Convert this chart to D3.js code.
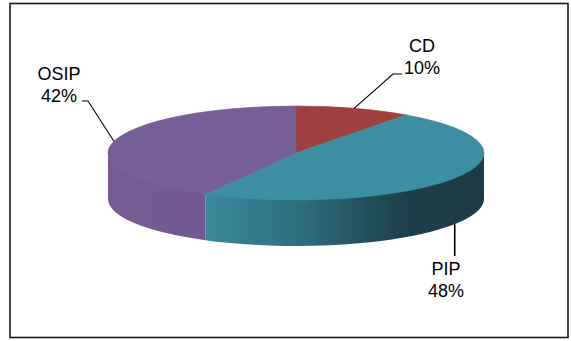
<!DOCTYPE html>
<html>

<head>
  <title>Pie 3D</title>
  <script src="https://cdn.jsdelivr.net/npm/d3@7"></script>
  <style>
    body { margin: 0; background: #fff; }
    text { font-family: "Liberation Sans", Arial, sans-serif; font-size: 18px; fill: #000; }
  </style>
</head>

<body>
  <svg width="571" height="341" id="mainsvg"></svg>
  <script>
    // data
    const categories = ['CD', 'PIP', 'OSIP'];
    const shares = [10, 48, 42];
    const colors = ['#9e413e', '#3c8ea2', '#765e96'];

    const svg = d3.select('#mainsvg');
    const width = +svg.attr('width');
    const height = +svg.attr('height');

    // ellipse geometry of the tilted pie
    const cx = 296, cy = 153, rx = 188, ry = 47, depth = 46;

    const pt = (a, dy = 0) => [cx + rx * Math.sin(a), cy - ry * Math.cos(a) + dy];

    const data = categories.map((c, i) => ({ name: c, value: shares[i] }));
    const pie = d3.pie().value(d => d.value).sort(null);
    const arcs = pie(data);
    const color = d3.scaleOrdinal().domain(categories).range(colors);

    // frame
    svg.append('rect')
      .attr('x', 10).attr('y', 3.5)
      .attr('width', 558).attr('height', 334)
      .attr('fill', 'none')
      .attr('stroke', '#1a1a1a')
      .attr('stroke-width', 1.6);

    const defs = svg.append('defs');
    const pipGrad = defs.append('linearGradient')
      .attr('id', 'pipSide')
      .attr('gradientUnits', 'userSpaceOnUse')
      .attr('x1', 205).attr('x2', 484).attr('y1', 0).attr('y2', 0);
    pipGrad.append('stop').attr('offset', '0%').attr('stop-color', '#3a889b');
    pipGrad.append('stop').attr('offset', '35%').attr('stop-color', '#2e6d7d');
    pipGrad.append('stop').attr('offset', '70%').attr('stop-color', '#1d404c');
    pipGrad.append('stop').attr('offset', '100%').attr('stop-color', '#1b3b46');

    const osipGrad = defs.append('linearGradient')
      .attr('id', 'osipSide')
      .attr('gradientUnits', 'userSpaceOnUse')
      .attr('x1', 108).attr('x2', 208).attr('y1', 0).attr('y2', 0);
    osipGrad.append('stop').attr('offset', '0%').attr('stop-color', '#765c93');
    osipGrad.append('stop').attr('offset', '100%').attr('stop-color', '#715890');

    const sideFill = { PIP: 'url(#pipSide)', OSIP: 'url(#osipSide)', CD: '#7c3230' };

    const g = svg.append('g');

    // outer walls, only the front half (pi/2 .. 3pi/2) is visible
    arcs.forEach(d => {
      const a0 = Math.max(d.startAngle, Math.PI / 2);
      const a1 = Math.min(d.endAngle, 3 * Math.PI / 2);
      if (a1 <= a0) return;
      const p0 = pt(a0, -1), p1 = pt(a1, -1), q0 = pt(a0, depth), q1 = pt(a1, depth);
      g.append('path')
        .attr('d', `M${p0}A${rx},${ry} 0 0 1 ${p1}L${q1}A${rx},${ry} 0 0 0 ${q0}Z`)
        .attr('fill', sideFill[d.data.name]);
    });

    // top faces
    g.selectAll('.top')
      .data(arcs)
      .enter()
      .append('path')
      .attr('class', 'top')
      .attr('d', d => {
        const p0 = pt(d.startAngle), p1 = pt(d.endAngle);
        const large = d.endAngle - d.startAngle > Math.PI ? 1 : 0;
        return `M${cx},${cy}L${p0}A${rx},${ry} 0 ${large} 1 ${p1}Z`;
      })
      .attr('fill', d => color(d.data.name))
      .attr('stroke', d => color(d.data.name))
      .attr('stroke-width', 0.6);

    // labels with leader lines
    const labelLayout = {
      CD: { x: 422, y: 52, line: (a) => [a, [393, 74], [402, 74]] },
      PIP: { x: 446, y: 275, line: (a) => [a, [a[0], 256]] },
      OSIP: { x: 59, y: 80, line: (a) => [a, [88, 101], [82, 101]] }
    };

    arcs.forEach(d => {
      const mid = (d.startAngle + d.endAngle) / 2;
      const front = Math.cos(mid) < 0;
      const anchor = pt(mid, front ? depth : 0);
      const lay = labelLayout[d.data.name];
      g.append('path')
        .attr('d', d3.line()(lay.line(anchor)))
        .attr('fill', 'none')
        .attr('stroke', '#000')
        .attr('stroke-width', d.data.name === 'PIP' ? 1.6 : 1.1);
      const t = g.append('text')
        .attr('text-anchor', 'middle')
        .attr('x', lay.x)
        .attr('y', lay.y);
      t.append('tspan').attr('x', lay.x).text(d.data.name);
      t.append('tspan').attr('x', lay.x).attr('dy', 22).text(d3.format('.0%')(d.value / d3.sum(shares)));
    });
  </script>
</body>

</html>
